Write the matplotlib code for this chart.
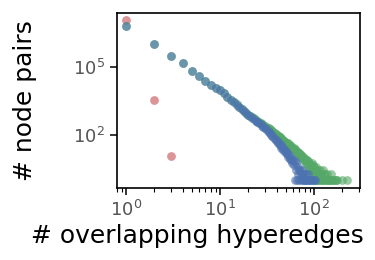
import matplotlib
matplotlib.use("Agg")
import matplotlib.pyplot as plt
from matplotlib.ticker import LogLocator, NullLocator

# ---- data ----
red_x = [1, 2, 3]
red_y = [11700000, 3500, 12]

blue_x = list(range(1, 63)) + [63, 64, 65, 66, 67, 68, 69, 70, 71, 72, 73, 74, 75, 76,
                               77, 78, 79, 80, 81, 83, 84, 86, 87, 89, 91, 94, 96, 99, 103]
blue_y = [6500000, 1020000, 316000, 145000, 69000, 40000, 25000, 16200, 12000, 9500,
          6900, 5000, 3700, 2800, 2200, 1740, 1380, 1120, 910, 760,
          660, 560, 490, 430, 370, 330, 295, 257, 229, 204,
          178, 155, 135, 117, 102, 89, 78, 68, 60, 55,
          44, 45, 35, 36, 27, 29, 22, 24, 17, 20,
          14, 16, 11, 13, 9, 11, 8, 9, 6, 8,
          5, 7,
          1, 6, 3, 1, 2, 4, 3, 1, 3, 2, 1, 2, 3, 1,
          2, 1, 2, 1, 1, 2, 1, 1, 2, 1, 1, 1, 1, 1, 1]

green_x = list(range(1, 109)) + [110, 111, 112, 114, 115, 117, 118, 120, 122, 123, 125,
                                 127, 129, 131, 133, 136, 138, 141, 144, 147, 150, 153,
                                 157, 162, 166, 171, 176, 198, 224]
green_y = [6500000, 1020000, 316000, 145000, 69000, 40000, 25000, 16200, 12000, 9500,
           6900, 5000, 3700, 2850, 2250, 1780, 1420, 1160, 950, 790,
           708, 617, 537, 479, 427, 380, 347, 309, 282, 257,
           234, 214, 195, 178, 162, 148, 135, 123, 112, 102,
           95, 87, 79, 74, 68, 63, 58, 54, 49, 46,
           44, 40, 43, 36, 38, 31, 33, 28, 27, 25,
           26, 21, 23, 19, 20, 17, 18, 15, 16, 13,
           14, 12, 13, 10, 12, 9, 11, 8, 10, 7,
           9, 8, 6, 8, 5, 7, 6, 4, 6, 5,
           3, 5, 4, 6, 3, 4, 2, 5, 3, 4,
           2, 3, 1, 4, 2, 3, 1, 2,
           3, 1, 2, 1, 3, 2, 1, 2, 1, 3, 1,
           2, 1, 2, 1, 1, 2, 1, 1, 1, 2, 1,
           1, 1, 1, 1, 1, 1, 1]

xlabel = "# overlapping hyperedges"
ylabel = "# node pairs"

# ---- plot ----
fig = plt.figure(figsize=(3.75, 2.6), dpi=100)
ax = fig.add_axes([0.311, 0.277, 0.649, 0.674])

ax.scatter(red_x, red_y, s=40, color="#C44E52", alpha=0.6, linewidths=0)
ax.scatter(green_x, green_y, s=40, color="#55A868", alpha=0.6, linewidths=0)
ax.scatter(blue_x, blue_y, s=40, color="#4C72B0", alpha=0.6, linewidths=0)

ax.set_xscale("log")
ax.set_yscale("log")
ax.set_xlim(0.796, 308)
ax.set_ylim(0.46, 2.5e7)

ax.set_yticks([1e2, 1e5])
ax.yaxis.set_minor_locator(NullLocator())
ax.xaxis.set_major_locator(LogLocator(base=10))
ax.xaxis.set_minor_locator(LogLocator(base=10, subs=range(2, 10)))

for sp in ax.spines.values():
    sp.set_color("black")
    sp.set_linewidth(1.2)

ax.tick_params(axis="both", which="major", length=5, width=1.1, color="black",
               labelsize=13, labelcolor="#555555", direction="out")
ax.tick_params(axis="both", which="minor", length=3, width=0.8, color="black",
               direction="out")

ax.set_xlabel(xlabel, fontsize=18, color="black", labelpad=3)
ax.xaxis.label.set_x(0.33)
ax.set_ylabel(ylabel, fontsize=18, color="black", labelpad=26)

fig.savefig("out.png", dpi=100)
